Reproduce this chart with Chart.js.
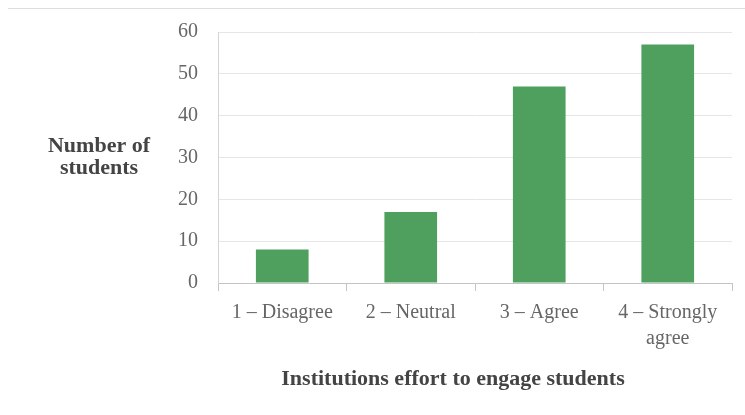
<!DOCTYPE html>
<html>
<head>
<meta charset="utf-8">
<script src="https://cdn.jsdelivr.net/npm/chart.js@4"></script>
<style>
  body { margin:0; background:#fff; }
  #wrap { position:relative; width:745px; height:415px; }
  #topline { position:absolute; left:8px; right:0; top:8px; border-top:1px solid #ddd; }
</style>
</head>
<body>
<div id="wrap">
  <div id="topline"></div>
  <canvas id="grafico" width="745" height="415"></canvas>
</div>
<script>
// dados
const categorias = [["1 \u2013 Disagree"], ["2 \u2013 Neutral"], ["3 \u2013 Agree"], ["4 \u2013 Strongly", "agree"]];
const valores = [8, 17, 47, 57];
const yTitulo = ["Number of", "students"];
const xTitulo = "Institutions effort to engage students";

// títulos desenhados à mão (o do eixo y fica na horizontal)
const titulos = {
  id: "titulos",
  afterDraw(chart) {
    const c = chart.ctx;
    c.save();
    c.font = "bold 22px 'Liberation Serif'";
    c.fillStyle = "#444";
    c.textAlign = "center";
    c.textBaseline = "middle";
    c.fillText(yTitulo[0], 99, 146);
    c.fillText(yTitulo[1], 99, 168);
    c.fillText(xTitulo, 453, 379);
    c.restore();
  }
};

let ctx = document.getElementById("grafico").getContext("2d");
let grafico = new Chart(ctx, {
  type: "bar",
  data: {
    labels: categorias,
    datasets: [{
      data: valores,
      backgroundColor: "#4fa05f",
      borderWidth: 0,
      barPercentage: 0.41,
      categoryPercentage: 1
    }]
  },
  options: {
    responsive: false,
    animation: false,
    layout: { padding: { left: 150, right: 13, top: 30, bottom: 62 } },
    plugins: { legend: { display: false }, tooltip: { enabled: false } },
    scales: {
      x: {
        afterFit(s) { s.height = 70; },
        grid: { offset: true, drawOnChartArea: false, color: "#c4c4c4", tickLength: 8 },
        border: { color: "#c4c4c4" },
        ticks: { color: "#666", font: { family: "Liberation Serif", size: 20, lineHeight: 1.3 }, padding: 9, maxRotation: 0, autoSkip: false }
      },
      y: {
        min: 0, max: 60,
        afterFit(s) { s.width = 68; },
        grid: { color: "#e6e6e6", drawTicks: false },
        border: { color: "#d4d4d4" },
        ticks: { stepSize: 10, color: "#666", font: { family: "Liberation Serif", size: 20 }, padding: 20 }
      }
    }
  },
  plugins: [titulos]
});
</script>
</body>
</html>
